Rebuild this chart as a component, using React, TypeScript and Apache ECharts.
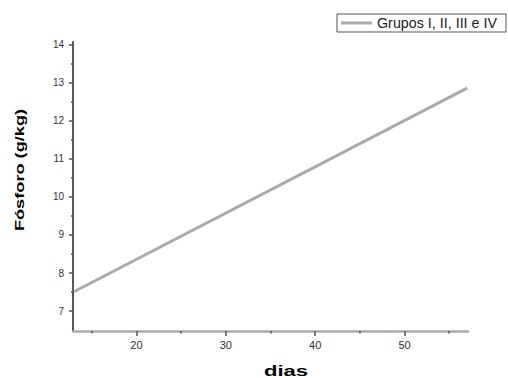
import React, { useEffect, useRef } from "react";
import * as echarts from "echarts";

const seriesName = "Grupos I, II, III e IV";
const dias = [13, 57];
const fosforo = [7.51, 12.85];
const xMajorTicks = [20, 30, 40, 50];
const xMinorTicks = [15, 25, 35, 45, 55];
const yMajorTicks = [7, 8, 9, 10, 11, 12, 13, 14];
const yMinorTicks = [7.5, 8.5, 9.5, 10.5, 11.5, 12.5, 13.5];
const xTitle = "dias";
const yTitle = "Fósforo (g/kg)";

const FONT = "'Liberation Sans', Arial, sans-serif";

export default function App() {
  const ref = useRef<HTMLDivElement>(null);
  useEffect(() => {
    if (!ref.current) return;
    const chart = echarts.init(ref.current, undefined, { renderer: "svg" });
    const xMin = 12.9, xMax = 57.1, yMin = 6.48, yMax = 14.06;
    const xBase = {
      type: "value" as const,
      min: xMin,
      max: xMax,
      splitLine: { show: false },
    };
    const yBase = {
      type: "value" as const,
      min: yMin,
      max: yMax,
      splitLine: { show: false },
    };
    chart.setOption({
      animation: false,
      backgroundColor: "#ffffff",
      grid: { left: 73, right: 40, top: 42, bottom: 47, containLabel: false },
      legend: {
        show: true,
        data: [seriesName],
        left: 337,
        top: 14,
        orient: "horizontal",
        borderColor: "#555",
        borderWidth: 1,
        padding: [2, 9, 2, 4],
        itemWidth: 31,
        itemHeight: 3,
        itemGap: 5,
        icon: "rect",
        textStyle: { fontSize: 14.3, color: "#222", fontFamily: FONT, padding: [0, 0, 0, 0] },
      },
      xAxis: [
        {
          ...xBase,
          axisLine: { show: true, lineStyle: { color: "#aaaaaa", width: 2.5 } },
          axisTick: { show: true, customValues: xMajorTicks, length: 5, inside: false, lineStyle: { color: "#555", width: 1.5 } },
          axisLabel: { show: true, customValues: xMajorTicks, margin: 8, fontSize: 11, color: "#333", fontFamily: FONT },
        },
        {
          ...xBase,
          position: "bottom",
          axisLine: { show: false },
          axisTick: { show: true, customValues: xMinorTicks, length: 2.5, lineStyle: { color: "#555", width: 1.5 } },
          axisLabel: { show: false },
        },
      ],
      yAxis: [
        {
          ...yBase,
          axisLine: { show: true, lineStyle: { color: "#444", width: 1.8 } },
          axisTick: { show: true, customValues: yMajorTicks, length: 4, lineStyle: { color: "#555", width: 1.5 } },
          axisLabel: { show: true, customValues: yMajorTicks, margin: 9, fontSize: 10, color: "#333", fontFamily: FONT },
        },
        {
          ...yBase,
          position: "left",
          axisLine: { show: false },
          axisTick: { show: true, customValues: yMinorTicks, length: 2, lineStyle: { color: "#555", width: 1.5 } },
          axisLabel: { show: false },
        },
      ],
      graphic: [
        {
          type: "text",
          x: 286,
          y: 371,
          scaleX: 1.47,
          style: {
            text: xTitle,
            fontSize: 15,
            fontWeight: "bold",
            fontFamily: FONT,
            fill: "#000",
            textAlign: "center",
            textVerticalAlign: "middle",
          },
        },
        {
          type: "text",
          x: 19,
          y: 170,
          rotation: Math.PI / 2,
          scaleX: 1.4,
          style: {
            text: yTitle,
            fontSize: 13,
            fontWeight: "bold",
            fontFamily: FONT,
            fill: "#000",
            textAlign: "center",
            textVerticalAlign: "middle",
          },
        },
      ],
      series: [
        {
          name: seriesName,
          type: "line",
          xAxisIndex: 0,
          yAxisIndex: 0,
          data: dias.map((d, i) => [d, fosforo[i]]),
          symbol: "none",
          lineStyle: { color: "#aaaaaa", width: 3 },
          itemStyle: { color: "#aaaaaa" },
        },
      ],
    });
    return () => chart.dispose();
  }, []);
  return (
    <div
      ref={ref}
      style={{ position: "fixed", left: 0, top: 0, width: 508, height: 378, background: "#fff" }}
    />
  );
}
